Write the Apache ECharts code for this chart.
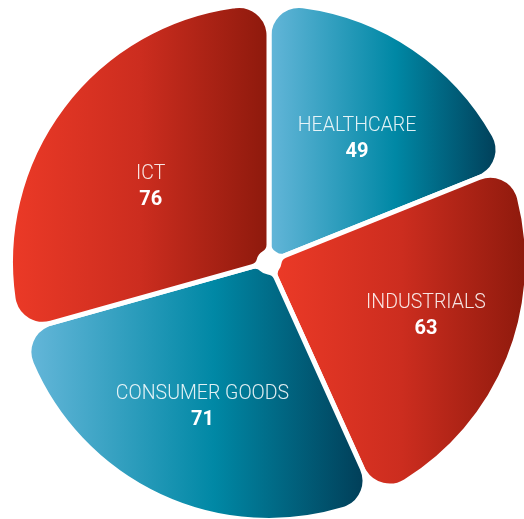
<!DOCTYPE html>
<html>
<head>
<meta charset="utf-8">
<script src="https://cdn.jsdelivr.net/npm/echarts@6/dist/echarts.min.js"></script>
<style>
  html, body { margin: 0; padding: 0; background: #ffffff; }
  #chart { width: 524px; height: 519px; }
</style>
</head>
<body>
<div id="chart"></div>
<script>
// Sector names (clockwise from 12 o'clock) and their counts
const sectors = ['HEALTHCARE', 'INDUSTRIALS', 'CONSUMER GOODS', 'ICT'];
const counts = [49, 63, 71, 76];

// Small label nudges per slice, in pixels [dx, dy]
const labelNudges = [[0, 7], [11, -5], [0, 3], [7, 20]];

// Fill style per slice: blue / red horizontal gradients, alternating
const blueStops = [
  { offset: 0, color: '#66b7da' },
  { offset: 0.55, color: '#0088a5' },
  { offset: 1, color: '#013d57' }
];
const redStops = [
  { offset: 0, color: '#ec3a27' },
  { offset: 0.5, color: '#cc2d1f' },
  { offset: 1, color: '#8c190c' }
];
const sliceStops = [blueStops, redStops, blueStops, redStops];

function gradient(stops) {
  return { type: 'linear', x: 0, y: 0, x2: 1, y2: 0, colorStops: stops };
}

const chart = echarts.init(document.getElementById('chart'), null, { renderer: 'canvas' });

const slices = sectors.map((name, i) => ({
  name: name,
  value: counts[i],
  itemStyle: { color: gradient(sliceStops[i]) }
}));

const labelSlices = sectors.map((name, i) => ({ name: name, value: counts[i] }));

chart.setOption({
  animation: false,
  backgroundColor: '#ffffff',
  series: [
    {
      type: 'pie',
      center: [269, 262],
      radius: [10, 258.5],
      startAngle: 90,
      clockwise: true,
      silent: true,
      itemStyle: {
        borderColor: '#ffffff',
        borderWidth: 5,
        borderRadius: [10, 30]
      },
      label: { show: false },
      labelLine: { show: false },
      data: slices
    },
    {
      // label layer: same angles, inner radius chosen so labels sit further out
      type: 'pie',
      center: [269, 262],
      radius: [50, 258.5],
      startAngle: 90,
      clockwise: true,
      silent: true,
      itemStyle: { color: 'rgba(0,0,0,0)', borderWidth: 0 },
      labelLine: { show: false },
      labelLayout: function (params) {
        const n = labelNudges[params.dataIndex];
        return { dx: n[0], dy: n[1] };
      },
      label: {
        show: true,
        position: 'inside',
        formatter: '{n|{b}}\n{v|{c}}',
        rich: {
          n: {
            fontFamily: 'Roboto',
            fontWeight: 300,
            fontSize: 19.5,
            lineHeight: 26,
            color: 'rgba(255,255,255,0.88)',
            align: 'center'
          },
          v: {
            fontFamily: 'Roboto',
            fontWeight: 'bold',
            fontSize: 20,
            lineHeight: 26,
            color: '#ffffff',
            align: 'center'
          }
        }
      },
      data: labelSlices
    }
  ]
});
</script>
</body>
</html>
